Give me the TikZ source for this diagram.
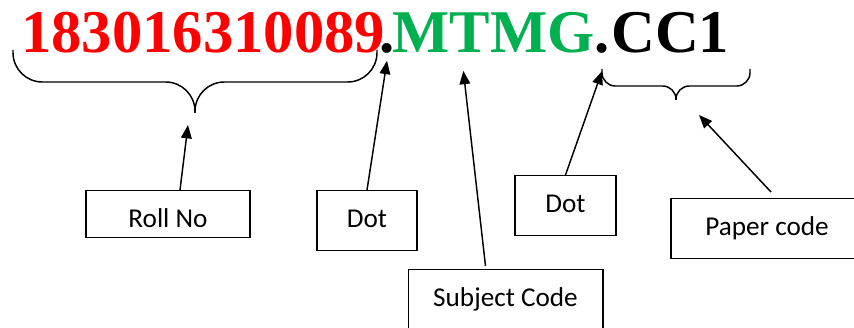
\documentclass[tikz,border=0pt]{standalone}
\usepackage{fontspec}
\newfontfamily\codefont{Liberation Serif}
\newfontfamily\boxfont{Carlito}
\usetikzlibrary{arrows.meta,calc,positioning}
\definecolor{codered}{RGB}{255,0,0}
\definecolor{codegreen}{RGB}{0,176,80}
\tikzset{
  codetext/.style={inner sep=0pt, anchor=base west,
    font=\codefont\bfseries\fontsize{45.5}{50}\selectfont},
  partbox/.style={draw, line width=1pt, inner xsep=0pt, inner ysep=0pt,
    anchor=north, font=\boxfont\fontsize{20.4}{24}\selectfont,
    text height=27.3pt},
  arr/.style={-{Triangle[length=10pt,width=8pt]}, line width=1.1pt},
  brace/.style={rounded corners=#1, line width=1.1pt}
}
\begin{document}
\begin{tikzpicture}[x=0.75pt,y=-0.75pt]
    \useasboundingbox (0,0) rectangle (854,328);
    \clip (0,0) rectangle (854,328);
    % the code itself
    \node[codetext, text=codered] (rollno) at (21,53) {183016310089};
    \node[codetext, anchor=base] (dotA) at (387,53) {.};
    \node[codetext, text=codegreen] (subjcode) at (392,53) {MTMG};
    \node[codetext, anchor=base] (dotB) at (602,53) {.};
    \node[codetext] (papercode) at (611,53) {CC1};
    % braces
    \coordinate (rolltip) at (195,113);
    \coordinate (papertip) at (676,100);
    \draw[brace=22pt] (13,50) -- (13,82) -- (rolltip |- 0,82) -- (rolltip);
    \draw[brace=22pt] (377,50) -- (377,82) -- (rolltip |- 0,82) -- (rolltip);
    \draw[brace=10pt] (602,69) -- (602,86) -- (papertip |- 0,86) -- (papertip);
    \draw[brace=10pt] (750,69) -- (750,86) -- (papertip |- 0,86) -- (papertip);
    % boxes
    \node[partbox, text depth=7.95pt, minimum width=123pt] (rollbox) at (168,190) {Roll No};
    \node[partbox, text depth=17.7pt, minimum width=75pt] (dotboxA) at (367,190) {Dot};
    \node[partbox, text depth=17.7pt, minimum width=75.75pt] (dotboxB) at (565.5,175) {Dot};
    \node[partbox, text depth=40pt, minimum width=146pt] (subjbox) at (505.5,269) {Subject Code};
    \node[partbox, text depth=17.7pt, minimum width=144pt] (paperbox) at (767,198) {Paper code};
    % arrows
    \draw[arr] ($(rollbox.north)+(12,0)$) -- ($(rolltip)+(-7,12)$);
    \draw[arr] (dotboxA.north) -- ([yshift=-5pt]dotA.south);
    \draw[arr] ($(subjbox.north)+(-20,-3)$) -- ($(subjcode.south)+(-30,17)$);
    \draw[arr] (dotboxB.north) -- ($(dotB.south)+(0,17)$);
    \draw[arr] ($(paperbox.north)+(4,-6)$) -- ($(papertip)+(23,15)$);
\end{tikzpicture}
\end{document}
